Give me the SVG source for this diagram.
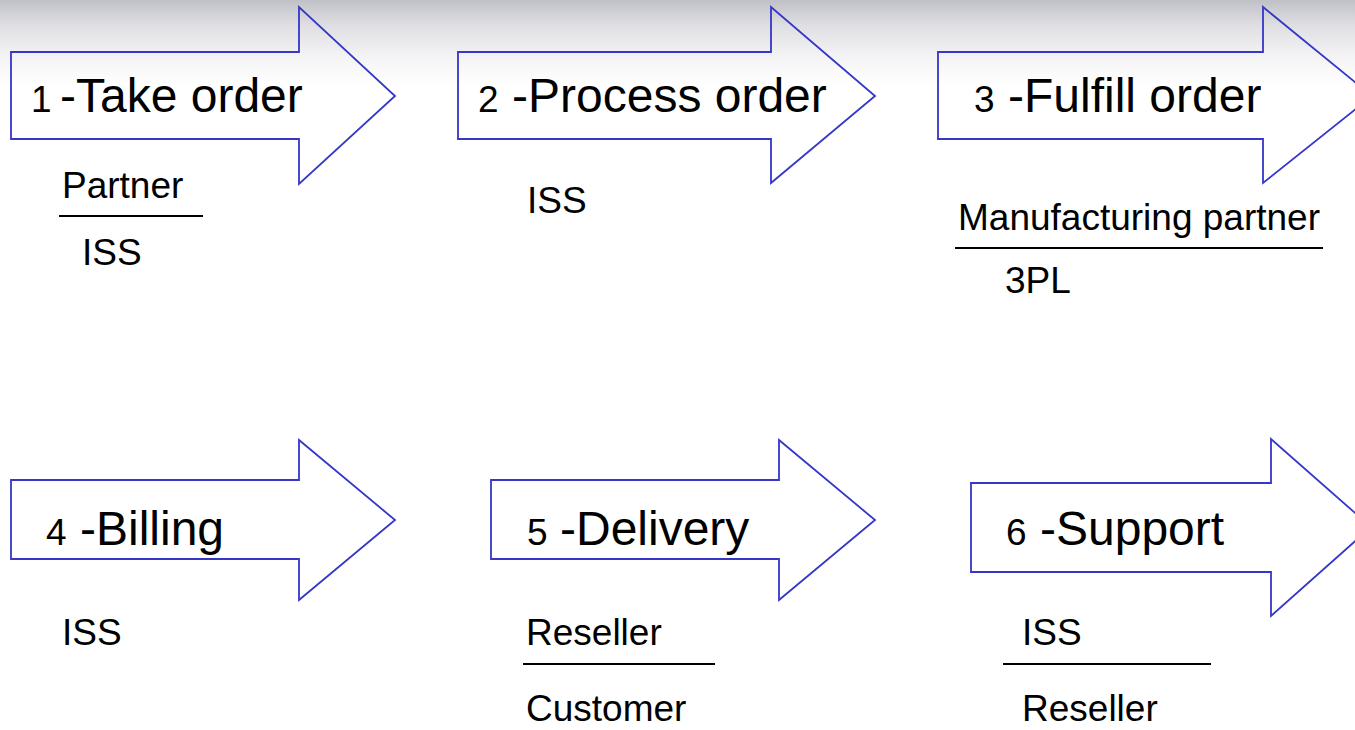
<svg xmlns="http://www.w3.org/2000/svg" width="1355" height="730" viewBox="0 0 1355 730">
  <defs>
    <linearGradient id="bg" x1="0" y1="0" x2="0" y2="1">
      <stop offset="0" stop-color="#c0c1c8"/>
      <stop offset="0.3" stop-color="#dfdfe3"/>
      <stop offset="0.65" stop-color="#f3f3f5"/>
      <stop offset="1" stop-color="#ffffff"/>
    </linearGradient>
    <style>
      .arrow { fill: none; stroke: #3636c8; stroke-width: 1.8; stroke-linejoin: miter; }
      .num { font-family: "Liberation Sans", Arial, sans-serif; font-size: 37px; fill: #000; }
      .title { font-family: "Liberation Sans", Arial, sans-serif; font-size: 48px; fill: #000; }
      .sub { font-family: "Liberation Sans", Arial, sans-serif; font-size: 37px; fill: #000; }
      .rule { stroke: #000; stroke-width: 2; }
    </style>
  </defs>
  <rect x="0" y="0" width="1355" height="730" fill="#ffffff"/>
  <rect x="0" y="0" width="1355" height="85" fill="url(#bg)"/>

  <g id="step1">
    <path class="arrow" d="M11,52 H299 V7 L395,96 L299,184 V139 H11 Z"/>
    <text class="num" x="31" y="112">1</text>
    <text class="title" x="60" y="112">-Take order</text>
    <text class="sub" x="62" y="198">Partner</text>
    <line class="rule" x1="59" y1="216" x2="203" y2="216"/>
    <text class="sub" x="82" y="265">ISS</text>
  </g>

  <g id="step2">
    <path class="arrow" d="M458,52 H771 V7 L875,96 L771,183 V139 H458 Z"/>
    <text class="num" x="478" y="112">2</text>
    <text class="title" x="512" y="112">-Process order</text>
    <text class="sub" x="527" y="213">ISS</text>
  </g>

  <g id="step3">
    <path class="arrow" d="M938,52 H1263 V7 L1372,96 L1263,183 V139 H938 Z"/>
    <text class="num" x="974" y="112">3</text>
    <text class="title" x="1008" y="112">-Fulfill order</text>
    <text class="sub" x="958" y="230">Manufacturing partner</text>
    <line class="rule" x1="955" y1="248" x2="1323" y2="248"/>
    <text class="sub" x="1005" y="293">3PL</text>
  </g>

  <g id="step4">
    <path class="arrow" d="M11,480 H299 V440 L395,520 L299,600 V559 H11 Z"/>
    <text class="num" x="46" y="545">4</text>
    <text class="title" x="80" y="545">-Billing</text>
    <text class="sub" x="62" y="645">ISS</text>
  </g>

  <g id="step5">
    <path class="arrow" d="M491,480 H779 V440 L875,520 L779,600 V559 H491 Z"/>
    <text class="num" x="527" y="545">5</text>
    <text class="title" x="560" y="545">-Delivery</text>
    <text class="sub" x="526" y="645">Reseller</text>
    <line class="rule" x1="523" y1="664" x2="715" y2="664"/>
    <text class="sub" x="526" y="721">Customer</text>
  </g>

  <g id="step6">
    <path class="arrow" d="M971,483 H1271 V439 L1371,527 L1271,616 V572 H971 Z"/>
    <text class="num" x="1006" y="545">6</text>
    <text class="title" x="1040" y="545">-Support</text>
    <text class="sub" x="1022" y="645">ISS</text>
    <line class="rule" x1="1003" y1="664" x2="1211" y2="664"/>
    <text class="sub" x="1022" y="721">Reseller</text>
  </g>

  <g id="connectors"></g>
</svg>
